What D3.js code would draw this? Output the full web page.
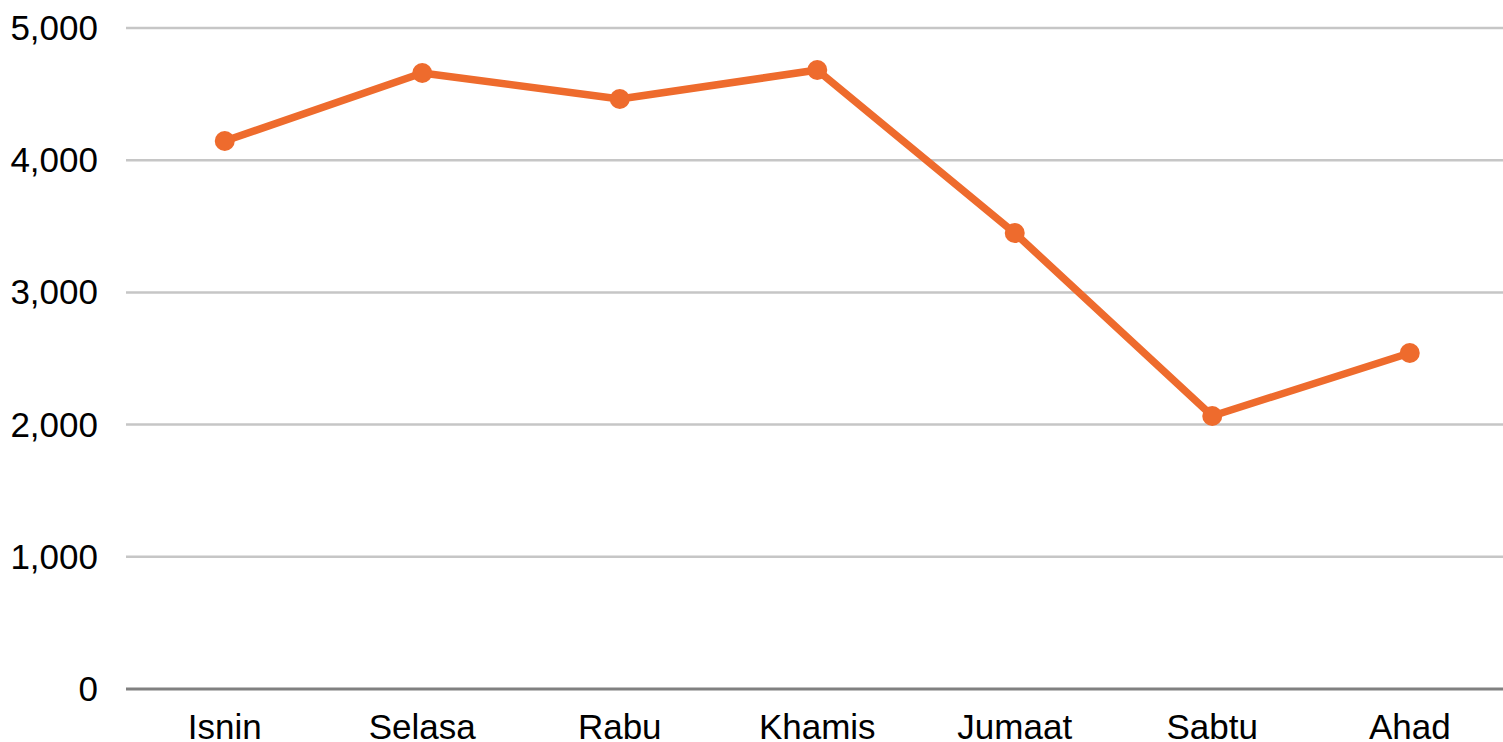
<!DOCTYPE html>
<html>
<head>
<meta charset="utf-8">
<script src="https://cdn.jsdelivr.net/npm/d3@7"></script>
<style>
  html, body { margin: 0; padding: 0; background: #fff; }
  svg { display: block; font-family: "Liberation Sans", Arial, sans-serif; }
</style>
</head>
<body>
<div id="chart"></div>
<script>
var w = 1503;
var h = 742;

var days = ["Isnin", "Selasa", "Rabu", "Khamis", "Jumaat", "Sabtu", "Ahad"];
var values = [4145, 4660, 4463, 4682, 3449, 2065, 2542];
var yTicks = [0, 1000, 2000, 3000, 4000, 5000];

var margin = { top: 28, bottom: 53, left: 126 };

var svg = d3.select("#chart")
            .append("svg")
            .attr("width", w)
            .attr("height", h);

// band runs slightly past the right edge, as in the reference
var x = d3.scaleBand()
          .domain(days)
          .range([margin.left, margin.left + 7 * 197.5]);

var y = d3.scaleLinear()
          .domain([0, 5000])
          .range([h - margin.bottom, margin.top]);

var fmt = d3.format(",");

// gridlines
svg.selectAll("line.grid")
   .data(yTicks.slice(1))
   .enter()
   .append("line")
   .attr("class", "grid")
   .attr("x1", margin.left)
   .attr("x2", w)
   .attr("y1", function(d) { return y(d); })
   .attr("y2", function(d) { return y(d); })
   .style("stroke", "#c6c6c6")
   .style("stroke-width", 2.5);

// baseline
svg.append("line")
   .attr("x1", margin.left)
   .attr("x2", w)
   .attr("y1", y(0))
   .attr("y2", y(0))
   .style("stroke", "#808080")
   .style("stroke-width", 3);

// y labels
svg.selectAll("text.ylab")
   .data(yTicks)
   .enter()
   .append("text")
   .attr("class", "ylab")
   .attr("x", 98)
   .attr("y", function(d) { return y(d) + 12; })
   .attr("text-anchor", "end")
   .style("font-size", "35px")
   .style("fill", "#000")
   .text(function(d) { return fmt(d); });

// x labels
svg.selectAll("text.xlab")
   .data(days)
   .enter()
   .append("text")
   .attr("class", "xlab")
   .attr("x", function(d) { return x(d) + x.bandwidth() / 2; })
   .attr("y", 739)
   .attr("text-anchor", "middle")
   .style("font-size", "35px")
   .style("fill", "#000")
   .text(function(d) { return d; });

var line = d3.line()
             .x(function(d, i) { return x(days[i]) + x.bandwidth() / 2; })
             .y(function(d) { return y(d); });

svg.append("path")
   .datum(values)
   .attr("d", line)
   .style("fill", "none")
   .style("stroke", "#ee6b2d")
   .style("stroke-width", 7.5)
   .style("stroke-linejoin", "round");

svg.selectAll("circle")
   .data(values)
   .enter()
   .append("circle")
   .attr("cx", function(d, i) { return x(days[i]) + x.bandwidth() / 2; })
   .attr("cy", function(d) { return y(d); })
   .attr("r", 10)
   .style("fill", "#ee6b2d");
</script>
</body>
</html>
